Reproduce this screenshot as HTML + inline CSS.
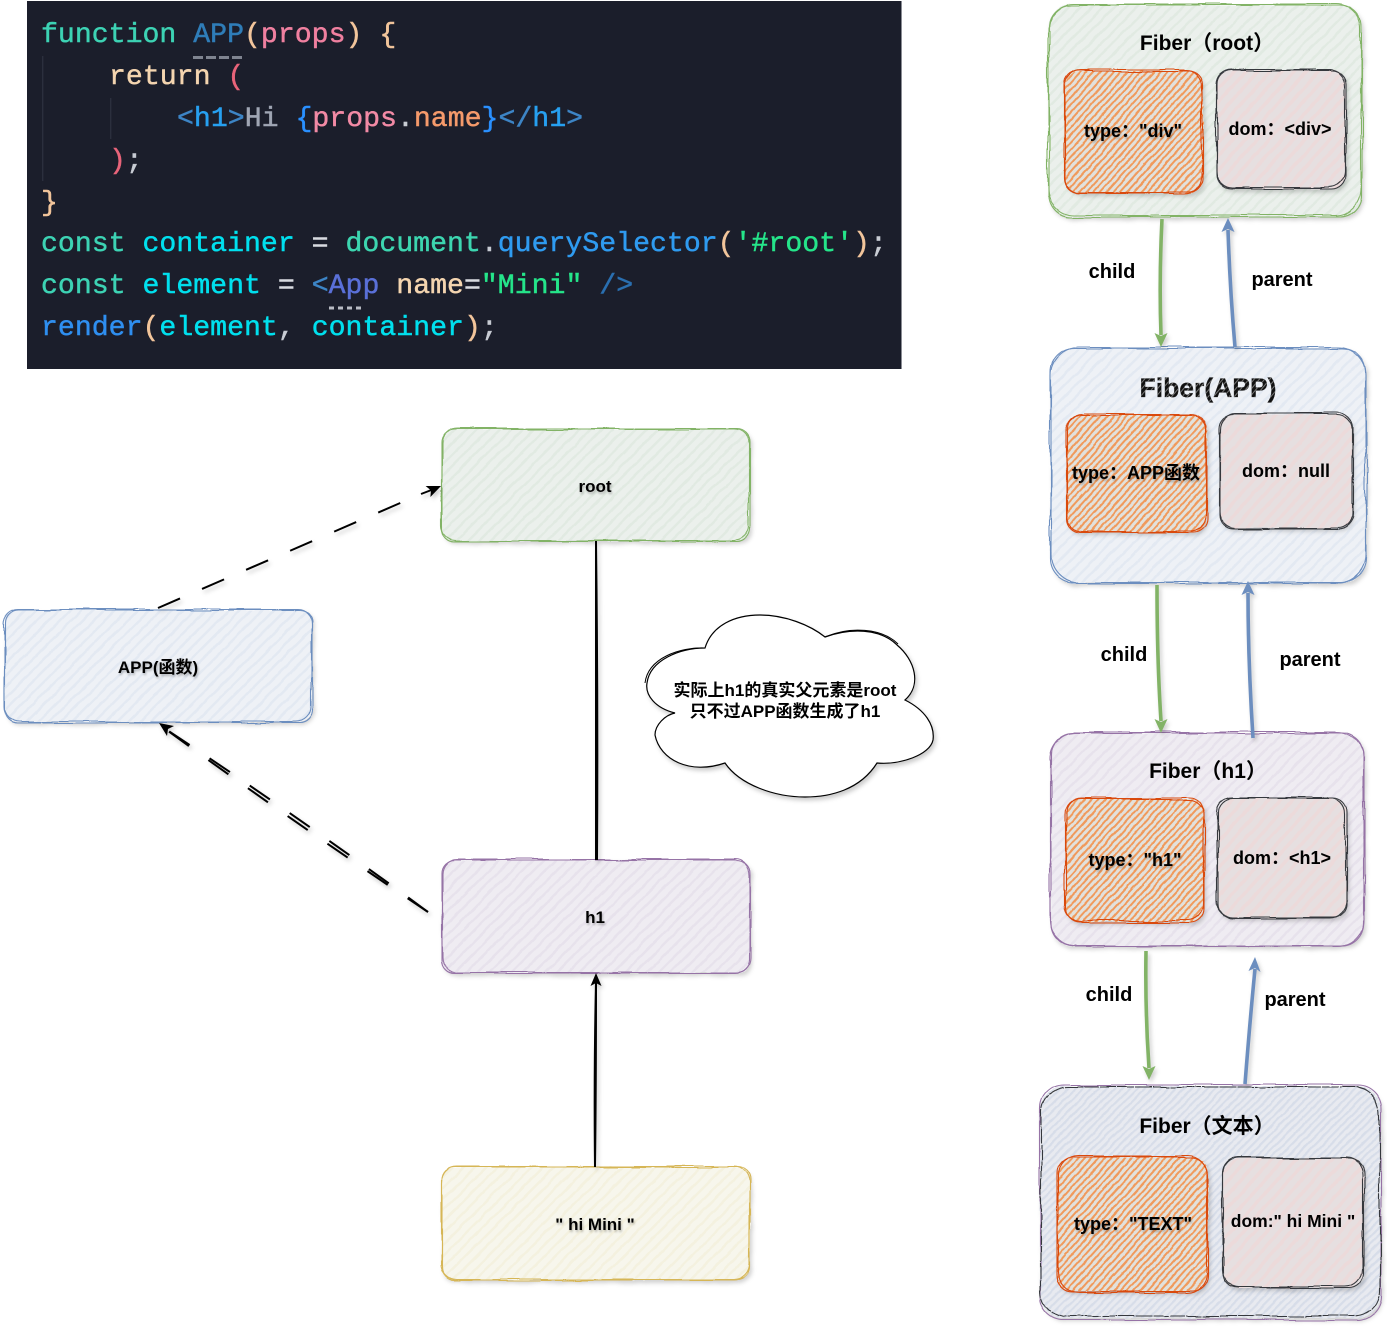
<!DOCTYPE html>
<html lang="zh">
<head>
<meta charset="utf-8">
<title>Fiber diagram</title>
<style>
html,body{margin:0;padding:0;background:#fff;width:1387px;height:1326px;overflow:hidden}
svg{display:block}
.code{font-family:"Liberation Mono","DejaVu Sans Mono",monospace;font-size:28.2px;white-space:pre;filter:blur(.35px)}
.code text,.code tspan{fill:currentColor;stroke:currentColor;stroke-width:.45}
.l{font-family:"Liberation Sans","Noto Sans CJK SC",sans-serif;font-weight:700;fill:#000;text-anchor:middle}
.sh{filter:drop-shadow(2px 3px 2px rgba(0,0,0,.2))}
.rf{filter:url(#rough3) drop-shadow(2px 3px 2px rgba(0,0,0,.18))}
.ts{filter:drop-shadow(1px 2px 1px rgba(0,0,0,.25))}
.s{fill:none;stroke-width:1.1;filter:url(#rough1)}
.s2{filter:url(#rough2)}
.g{stroke:#82b366}.b{stroke:#6c8ebf}.p{stroke:#9673a6}.y{stroke:#d6b656}.o{stroke:#d9480f}.k{stroke:#36393d}
.tk{fill:none;stroke:#000;stroke-width:2}
.gr{fill:none;stroke:#82b366;stroke-width:3.600}
.bl{fill:none;stroke:#6c8ebf;stroke-width:3.600}
</style>
</head>
<body>
<svg xmlns="http://www.w3.org/2000/svg" width="1387" height="1326" viewBox="0 0 1387 1326">
<defs>
<filter id="rough1" x="-5%" y="-5%" width="110%" height="110%"><feTurbulence type="fractalNoise" baseFrequency=".018" numOctaves="2" seed="3"/><feDisplacementMap in="SourceGraphic" scale="5" xChannelSelector="R" yChannelSelector="G"/></filter>
<filter id="rough2" x="-5%" y="-5%" width="110%" height="110%"><feTurbulence type="fractalNoise" baseFrequency=".022" numOctaves="2" seed="11"/><feDisplacementMap in="SourceGraphic" scale="6" xChannelSelector="R" yChannelSelector="G"/></filter>
<filter id="rough3" x="-5%" y="-5%" width="110%" height="110%"><feTurbulence type="fractalNoise" baseFrequency=".06" numOctaves="2" seed="7"/><feDisplacementMap in="SourceGraphic" scale="3" xChannelSelector="R" yChannelSelector="G"/></filter>
<pattern id="hg" width="8" height="8" patternUnits="userSpaceOnUse" patternTransform="rotate(-45)"><rect width="8" height="8" fill="#ebf0ec"/><rect width="8" height="2.500" fill="#e1eae2"/></pattern>
<pattern id="hb" width="8" height="8" patternUnits="userSpaceOnUse" patternTransform="rotate(-45)"><rect width="8" height="8" fill="#eef1f6"/><rect width="8" height="2.500" fill="#e3e9f2"/></pattern>
<pattern id="hp" width="8" height="8" patternUnits="userSpaceOnUse" patternTransform="rotate(-45)"><rect width="8" height="8" fill="#efecf2"/><rect width="8" height="2.500" fill="#e7e2ec"/></pattern>
<pattern id="hy" width="8" height="8" patternUnits="userSpaceOnUse" patternTransform="rotate(-45)"><rect width="8" height="8" fill="#f7f6ec"/><rect width="8" height="2.500" fill="#f4f1df"/></pattern>
<pattern id="ht" width="5.500" height="5.500" patternUnits="userSpaceOnUse" patternTransform="rotate(-45)"><rect width="5.500" height="5.500" fill="#e8eaf0"/><rect width="5.500" height="2.200" fill="#d7dde9"/></pattern>
<pattern id="ho" width="5" height="5" patternUnits="userSpaceOnUse" patternTransform="rotate(-48)"><rect width="5" height="5" fill="#e2e1dc"/><rect width="5" height="2" fill="#f09a5c"/></pattern>
<pattern id="hk" width="9" height="9" patternUnits="userSpaceOnUse" patternTransform="rotate(-48)"><rect width="9" height="9" fill="#e6dfe0"/><rect width="9" height="3.500" fill="#ecdada"/></pattern>
<pattern id="tx" width="4" height="4" patternUnits="userSpaceOnUse" patternTransform="rotate(-50)"><rect width="4" height="4" fill="#111"/><rect width="4" height="1" fill="#777"/></pattern>
</defs>

<!-- code panel -->
<rect x="27" y="1" width="875" height="368" fill="#1b1e2b"/>
<rect x="901" y="1" width="1" height="368" fill="#8a8c94"/>
<rect x="42" y="56" width="1.400" height="125" fill="#2b2f3d"/>
<rect x="110" y="98" width="1.400" height="41" fill="#2b2f3d"/>
<path d="M193 57.500H244" stroke="#7f8490" stroke-width="3" stroke-dasharray="10 3" fill="none"/>
<path d="M329 308H363" stroke="#b9bcc4" stroke-width="3" stroke-dasharray="5 4" fill="none"/>
<g class="code" xml:space="preserve">
<text x="41" y="42"><tspan color="#3dd3b4">function</tspan> <tspan color="#2f7db8">APP</tspan><tspan color="#f2c59b">(</tspan><tspan color="#f080a0">props</tspan><tspan color="#f2c59b">) {</tspan></text>
<text x="109" y="84"><tspan color="#f4d5b0">return</tspan> <tspan color="#e8647a">(</tspan></text>
<text x="177" y="126"><tspan color="#3d85c6">&lt;</tspan><tspan color="#27a0f0">h1</tspan><tspan color="#3d85c6">&gt;</tspan><tspan color="#a0a6b4">Hi </tspan><tspan color="#2a90ff">{</tspan><tspan color="#f28aa5">props</tspan><tspan color="#c8ccd4">.</tspan><tspan color="#f59a6b">name</tspan><tspan color="#2a90ff">}</tspan><tspan color="#3d85c6">&lt;/</tspan><tspan color="#27a0f0">h1</tspan><tspan color="#3d85c6">&gt;</tspan></text>
<text x="109" y="168"><tspan color="#e8647a">)</tspan><tspan color="#c8ccd4">;</tspan></text>
<text x="41" y="210" color="#f2c59b">}</text>
<text x="41" y="251"><tspan color="#3dd3b4">const</tspan> <tspan color="#00e0ee">container</tspan> <tspan color="#d8dbe0">=</tspan> <tspan color="#3dd6b0">document</tspan><tspan color="#c8ccd4">.</tspan><tspan color="#2f9bf0">querySelector</tspan><tspan color="#f2c59b">(</tspan><tspan color="#25e58a">'#root'</tspan><tspan color="#f2c59b">)</tspan><tspan color="#c8ccd4">;</tspan></text>
<text x="41" y="293"><tspan color="#3dd3b4">const</tspan> <tspan color="#00e0ee">element</tspan> <tspan color="#d8dbe0">=</tspan> <tspan color="#3d85c6">&lt;</tspan><tspan color="#5a70d8">App</tspan> <tspan color="#f4d5b0">name</tspan><tspan color="#d8dbe0">=</tspan><tspan color="#25e58a">"Mini"</tspan> <tspan color="#2a6fb0">/&gt;</tspan></text>
<text x="41" y="335"><tspan color="#2f8ff0">render</tspan><tspan color="#f2c59b">(</tspan><tspan color="#00e0ee">element</tspan><tspan color="#c8ccd4">,</tspan> <tspan color="#00e0ee">container</tspan><tspan color="#f2c59b">)</tspan><tspan color="#c8ccd4">;</tspan></text>
</g>

<!-- left column boxes -->
<rect class="rf" x="442" y="429" width="308" height="112" rx="13" fill="url(#hg)"/>
<rect class="rf" x="5" y="610" width="307" height="112" rx="13" fill="url(#hb)"/>
<rect class="rf" x="442" y="860" width="308" height="113" rx="13" fill="url(#hp)"/>
<rect class="rf" x="442" y="1167" width="308" height="113" rx="13" fill="url(#hy)"/>
<rect class="s g" x="442" y="429" width="308" height="112" rx="13"/><rect class="s s2 g" x="441.500" y="429" width="308" height="112" rx="15"/>
<rect class="s b" x="5" y="610" width="307" height="112" rx="13"/><rect class="s s2 b" x="4.500" y="609.500" width="307" height="113" rx="15"/>
<rect class="s p" x="442" y="860" width="308" height="113" rx="13"/><rect class="s s2 p" x="442.500" y="859.500" width="307" height="113" rx="15"/>
<rect class="s y" x="442" y="1167" width="308" height="113" rx="13"/><rect class="s s2 y" x="441.500" y="1166.500" width="308.500" height="113" rx="16"/>
<text class="l ts" x="595" y="492" font-size="17">root</text>
<text class="l ts" x="158" y="673" font-size="17">APP(函数)</text>
<text class="l ts" x="595" y="923" font-size="17">h1</text>
<text class="l ts" x="595" y="1230" font-size="17">" hi Mini "</text>

<!-- left connectors -->
<g class="sh">
<path class="tk" stroke-dasharray="24 24" d="M158 608L421 494"/>
<path class="tk" d="M421 494L434 489"/>
<path d="M441 486L425.600 486L431 490.400L430.400 497Z" fill="#000"/>
<path class="tk" stroke-dasharray="24.500 24" d="M428 912Q296 815 164 728"/>
<path class="tk" stroke-dasharray="24.500 24" d="M428 912Q292 821 164 728"/>
<path d="M159 723L174 726L168 729L167 736Z" fill="#000"/>
<path class="tk" d="M596 541Q598 700 597 860"/>
<path class="tk" d="M596 541Q596 720 596 860"/>
<path class="tk" d="M595 1167Q594 1070 596 982"/>
<path class="tk" d="M595 1167Q596 1090 596 982"/>
<path d="M596 973L601.500 986L596 983L590.500 986Z" fill="#000"/>
</g>

<!-- cloud -->
<path class="sh" fill="#fff" stroke="#000" stroke-width="1.200" d="M705 648C712 625 735 615 760 615C785 615 810 625 825 637C850 628 880 628 897 645C915 660 922 685 905 700C925 710 935 725 933 740C930 755 900 765 877 763C860 790 830 797 805 797C775 797 740 785 725 763C690 775 660 760 655 735C655 725 665 715 675 713C655 708 645 695 647 683C650 660 680 648 705 648Z"/>
<path fill="none" stroke="#000" stroke-width="1" d="M705 648C680 647 648 658 645 683M825 637C850 626 882 628 898 644"/>
<text class="l" x="785" y="696" font-size="17">实际上h1的真实父元素是root</text>
<text class="l" x="785" y="717" font-size="17">只不过APP函数生成了h1</text>

<!-- Fiber (root) -->
<rect class="rf" x="1049" y="5" width="313" height="212" rx="22" fill="url(#hg)"/>
<rect class="s g" x="1049" y="5" width="313" height="212" rx="22"/><rect class="s s2 g" x="1048" y="4" width="313" height="211" rx="26"/>
<rect class="rf" x="1065" y="71" width="138" height="122" rx="14" fill="url(#ho)"/>
<rect class="s o" x="1065" y="71" width="138" height="122" rx="14"/><rect class="s s2 o" x="1064.500" y="70" width="137" height="123" rx="16"/>
<rect class="rf" x="1217" y="70" width="129" height="119" rx="14" fill="url(#hk)"/>
<rect class="s k" x="1217" y="70" width="129" height="119" rx="14"/><rect class="s s2 k" x="1216.500" y="69.500" width="128" height="118" rx="16"/>
<text class="l" x="1207" y="50" font-size="21">Fiber（root）</text>
<text class="l ts" x="1133" y="137" font-size="18">type："div"</text>
<text class="l" x="1280" y="135" font-size="18">dom：&lt;div&gt;</text>

<!-- Fiber (APP) -->
<rect class="rf" x="1051" y="348" width="315" height="235" rx="24" fill="url(#hb)"/>
<rect class="s b" x="1051" y="348" width="315" height="235" rx="24"/><rect class="s s2 b" x="1050.500" y="347" width="315" height="236" rx="28"/>
<rect class="rf" x="1067" y="415" width="140" height="117" rx="14" fill="url(#ho)"/>
<rect class="s o" x="1067" y="415" width="140" height="117" rx="14"/><rect class="s s2 o" x="1066.500" y="414.500" width="139" height="118" rx="16"/>
<rect class="rf" x="1220" y="414" width="132" height="114" rx="14" fill="url(#hk)"/>
<rect class="s k" x="1220" y="414" width="132" height="114" rx="14"/><rect class="s s2 k" x="1219.500" y="413" width="133" height="115" rx="16"/>
<text class="l" x="1208" y="397" font-size="26.500" style="fill:url(#tx)" stroke="#222" stroke-width=".3">Fiber(APP)</text>
<text class="l ts" x="1136" y="479" font-size="18">type：APP函数</text>
<text class="l" x="1286" y="477" font-size="18">dom：null</text>

<!-- Fiber (h1) -->
<rect class="rf" x="1051" y="733" width="313" height="213" rx="22" fill="url(#hp)"/>
<rect class="s p" x="1051" y="733" width="313" height="213" rx="22"/><rect class="s s2 p" x="1050.500" y="732" width="313" height="214" rx="26"/>
<rect class="rf" x="1066" y="799" width="138" height="123" rx="14" fill="url(#ho)"/>
<rect class="s o" x="1066" y="799" width="138" height="123" rx="14"/><rect class="s s2 o" x="1065.500" y="798.500" width="139" height="122" rx="16"/>
<rect class="rf" x="1218" y="798" width="129" height="120" rx="14" fill="url(#hk)"/>
<rect class="s k" x="1218" y="798" width="129" height="120" rx="14"/><rect class="s s2 k" x="1217.500" y="797.500" width="128" height="120" rx="16"/>
<text class="l" x="1208" y="778" font-size="21">Fiber（h1）</text>
<text class="l ts" x="1135" y="866" font-size="18">type："h1"</text>
<text class="l" x="1282" y="864" font-size="18">dom：&lt;h1&gt;</text>

<!-- Fiber (text) -->
<rect class="rf" x="1040" y="1086" width="341" height="232" rx="24" fill="url(#ht)"/>
<rect class="s p" x="1040" y="1085" width="341" height="235" rx="24"/><rect class="s s2 k" stroke-dasharray="16 1" x="1041" y="1087" width="339" height="229" rx="26"/>
<rect class="rf" x="1057" y="1157" width="151" height="134" rx="16" fill="url(#ho)"/>
<rect class="s o" x="1057" y="1157" width="151" height="134" rx="16"/><rect class="s s2 o" x="1058" y="1156" width="149" height="136" rx="20"/>
<rect class="rf" x="1223" y="1158" width="141" height="130" rx="15" fill="url(#hk)"/>
<rect class="s k" x="1223" y="1158" width="141" height="130" rx="15"/><rect class="s s2 k" x="1222.500" y="1157.500" width="140" height="129" rx="17"/>
<text class="l" x="1207" y="1133" font-size="21">Fiber（文本）</text>
<text class="l ts" x="1133" y="1230" font-size="18">type："TEXT"</text>
<text class="l" x="1293" y="1227" font-size="17.500">dom:" hi Mini "</text>

<!-- right connectors -->
<g class="sh">
<path class="gr" d="M1162 219Q1159 280 1161 335"/><path d="M1161 347L1154.500 333L1161 336L1167.500 333Z" fill="#82b366"/>
<path class="bl" d="M1235 347Q1230 290 1228 230"/><path d="M1228 218L1234.500 232L1228 229L1221.500 232Z" fill="#6c8ebf"/>
<path class="gr" d="M1157 585Q1157 660 1161 721"/><path d="M1161 733L1154.500 719L1161 722L1167.500 719Z" fill="#82b366"/>
<path class="bl" d="M1253 738Q1248 660 1248 593"/><path d="M1248 581L1254.500 595L1248 592L1241.500 595Z" fill="#6c8ebf"/>
<path class="gr" d="M1146 951Q1145 1010 1149 1068"/><path d="M1149 1080L1142.500 1066L1149 1069L1155.500 1066Z" fill="#82b366"/>
<path class="bl" d="M1245 1084Q1250 1020 1255 969"/><path d="M1255 957L1260.500 972L1255 968L1248.500 971Z" fill="#6c8ebf"/>
</g>
<text class="l" x="1112" y="278" font-size="20">child</text>
<text class="l" x="1282" y="286" font-size="20">parent</text>
<text class="l" x="1124" y="661" font-size="20">child</text>
<text class="l" x="1310" y="666" font-size="20">parent</text>
<text class="l" x="1109" y="1001" font-size="20">child</text>
<text class="l" x="1295" y="1006" font-size="20">parent</text>
</svg>
</body>
</html>
